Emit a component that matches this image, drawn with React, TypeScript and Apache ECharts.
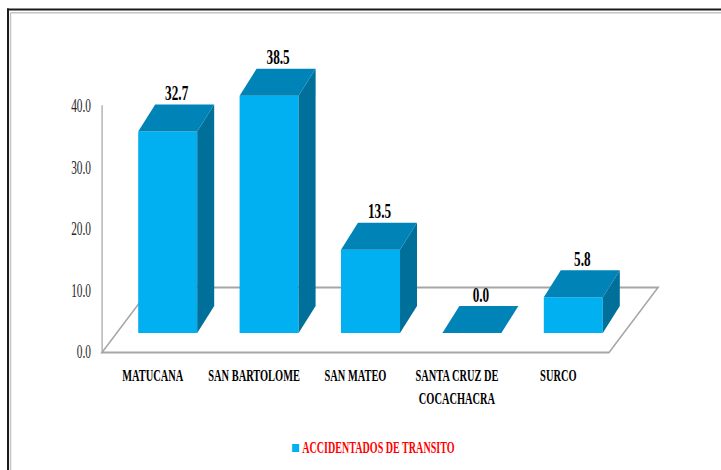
import React, { useEffect, useRef } from "react";
import * as echarts from "echarts";

// ---- data ----
const CATEGORIES = ["MATUCANA", "SAN BARTOLOME", "SAN MATEO", "SANTA CRUZ DE\nCOCACHACRA", "SURCO"];
const VALUES = [32.7, 38.5, 13.5, 0.0, 5.8];
const SERIES_NAME = "ACCIDENTADOS DE TRANSITO";
const Y_TICKS = [0, 10, 20, 30, 40];

// ---- layout / style constants ----
const VIEW_W = 721;
const VIEW_H = 470;
const SX = 0.63; // horizontal condensation of the whole picture
const CHART_W = Math.round(VIEW_W / SX);
const K = VIEW_W / CHART_W; // actual scale

const FRONT = "#00B0F0";
const TOP = "#0083B6";
const SIDE = "#006F99";
const FLOOR = "#A6A6A6";

const BAR_W = 59 / K;
const BAR_SHIFT = 15 / K;
const DEPTH_X = 17 / K;
const DEPTH_Y = -27;
const BASE_LIFT = 19.5;
const FLOOR_DX = 49 / K;
const FLOOR_DY = -65;
const LABEL_DX = 9 / K;

const FONT = "'Liberation Serif', 'Times New Roman', serif";

export default function App() {
  const ref = useRef<HTMLDivElement>(null);

  useEffect(() => {
    if (!ref.current) return;
    const chart = echarts.init(ref.current, null, { renderer: "svg" });

    const barData = VALUES.map((v, i) => [i, v]);

    const option: any = {
      animation: false,
      backgroundColor: "#ffffff",
      grid: {
        left: 102 / K,
        width: 507 / K,
        top: 106,
        bottom: VIEW_H - 352.5,
        containLabel: false,
      },
      legend: {
        data: [SERIES_NAME],
        left: 289 / K,
        top: 435,
        icon: "rect",
        itemWidth: 7 / K,
        itemHeight: 8,
        textStyle: {
          color: "#FF0000",
          fontFamily: FONT,
          fontWeight: "bold",
          fontSize: 16,
        },
      },
      xAxis: {
        type: "category",
        data: CATEGORIES,
        axisLine: { show: false },
        axisTick: { show: false },
        splitLine: { show: false },
        axisLabel: {
          interval: 0,
          margin: 12,
          color: "#000",
          fontFamily: FONT,
          fontWeight: "bold",
          fontSize: 16.5,
          lineHeight: 23,
        },
      },
      yAxis: {
        type: "value",
        min: Y_TICKS[0],
        max: Y_TICKS[Y_TICKS.length - 1],
        interval: Y_TICKS[1] - Y_TICKS[0],
        axisLine: { show: true, lineStyle: { color: FLOOR, width: 2 } },
        axisTick: { show: false },
        splitLine: { show: false },
        axisLabel: {
          margin: 11 / K,
          color: "#262626",
          fontFamily: FONT,
          fontSize: 18,
          formatter: (v: number) => v.toFixed(1),
        },
      },
      graphic: [
        {
          type: "line",
          shape: { x1: 8 / K, y1: 8.5, x2: 8 / K, y2: VIEW_H + 5 },
          style: { stroke: "#1a1a1a", lineWidth: 2 / K },
        },
        {
          type: "line",
          shape: { x1: 7 / K, y1: 9.5, x2: CHART_W + 5, y2: 9.5 },
          style: { stroke: "#1a1a1a", lineWidth: 2 },
        },
        {
          type: "line",
          shape: { x1: 10.5 / K, y1: 12.8, x2: 10.5 / K, y2: VIEW_H + 5 },
          style: { stroke: "#c4c4c4", lineWidth: 1.5 / K },
        },
        {
          type: "line",
          shape: { x1: 10.5 / K, y1: 12.8, x2: CHART_W + 5, y2: 12.8 },
          style: { stroke: "#c4c4c4", lineWidth: 1.5 },
        },
      ],
      series: [
        {
          type: "custom",
          name: "floor",
          z: 1,
          silent: true,
          data: [[0, 0]],
          renderItem: (params: any) => {
            const cs = params.coordSys;
            const bx = cs.x;
            const by = cs.y + cs.height;
            const w = cs.width;
            return {
              type: "polygon",
              shape: {
                points: [
                  [bx, by],
                  [bx + w, by],
                  [bx + w + FLOOR_DX, by + FLOOR_DY],
                  [bx + FLOOR_DX, by + FLOOR_DY],
                ],
              },
              style: { fill: "none", stroke: FLOOR, lineWidth: 2 },
            };
          },
        },
        {
          type: "custom",
          name: SERIES_NAME,
          z: 2,
          itemStyle: { color: FRONT },
          data: barData,
          renderItem: (params: any, api: any) => {
            const idx = api.value(0);
            const val = api.value(1);
            const base = api.coord([idx, 0]);
            const top = api.coord([idx, val]);
            const cx = base[0] + BAR_SHIFT;
            const by = base[1] - BASE_LIFT;
            const ty = top[1] - BASE_LIFT;
            const x0 = cx - BAR_W / 2;
            const x1 = cx + BAR_W / 2;
            const children: any[] = [];
            if (by - ty > 0.5) {
              children.push({
                type: "rect",
                shape: { x: x0, y: ty, width: BAR_W, height: by - ty },
                style: { fill: FRONT },
              });
              children.push({
                type: "polygon",
                shape: {
                  points: [
                    [x1, ty],
                    [x1 + DEPTH_X, ty + DEPTH_Y],
                    [x1 + DEPTH_X, by + DEPTH_Y],
                    [x1, by],
                  ],
                },
                style: { fill: SIDE },
              });
            }
            children.push({
              type: "polygon",
              shape: {
                points: [
                  [x0, ty],
                  [x1, ty],
                  [x1 + DEPTH_X, ty + DEPTH_Y],
                  [x0 + DEPTH_X, ty + DEPTH_Y],
                ],
              },
              style: { fill: TOP },
            });
            children.push({
              type: "text",
              x: cx + LABEL_DX,
              y: ty + DEPTH_Y - 1,
              style: {
                text: Number(val).toFixed(1),
                fill: "#000",
                font: `bold 21px ${FONT}`,
                align: "center",
                verticalAlign: "bottom",
              },
            });
            return { type: "group", children };
          },
        },
      ],
    };

    chart.setOption(option);
    return () => {
      chart.dispose();
    };
  }, []);

  return (
    <div
      style={{
        position: "fixed",
        left: 0,
        top: 0,
        width: VIEW_W,
        height: VIEW_H,
        overflow: "hidden",
        background: "#fff",
      }}
    >
      <div
        ref={ref}
        style={{
          width: CHART_W,
          height: VIEW_H,
          transform: `scaleX(${K})`,
          transformOrigin: "0 0",
        }}
      />
    </div>
  );
}
